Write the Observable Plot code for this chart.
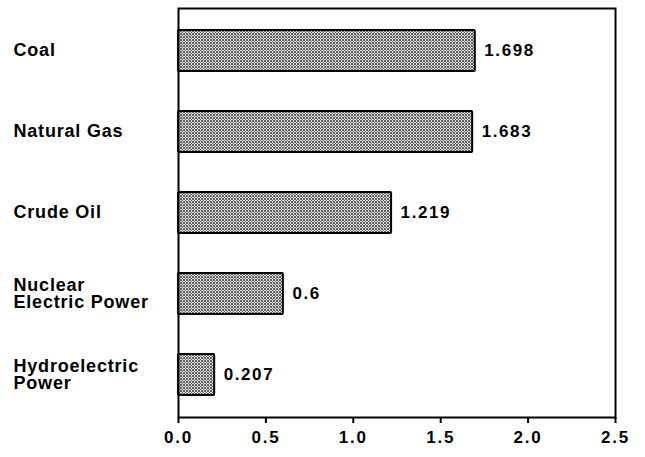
<!DOCTYPE html>
<html>
<head>
<meta charset="utf-8">
<script src="https://cdn.jsdelivr.net/npm/d3@7"></script>
<script src="https://cdn.jsdelivr.net/npm/@observablehq/plot@0.6"></script>
<style>
  body { margin: 0; background: #fff; }
  svg { font-family: "Liberation Sans", Arial, sans-serif; }
</style>
</head>
<body>
<div id="chart"></div>
<script>
const categories = ["Coal", "Natural Gas", "Crude Oil", "Nuclear\nElectric Power", "Hydroelectric\nPower"];
const values = [1.698, 1.683, 1.219, 0.6, 0.207];
const valueLabels = ["1.698", "1.683", "1.219", "0.6", "0.207"];
const xTicks = [0, 0.5, 1.0, 1.5, 2.0, 2.5];

const data = categories.map((c, i) => ({name: c, value: values[i], label: valueLabels[i]}));

const plot = Plot.plot({
  width: 645,
  height: 457,
  marginLeft: 178,
  marginRight: 30,
  marginTop: 8,
  marginBottom: 40,
  x: {domain: [0, 2.5], ticks: xTicks, tickFormat: d3.format(".1f")},
  y: {domain: categories, paddingInner: 0.5, paddingOuter: 0.27, axis: null},
  style: {fontSize: "17px", fontWeight: "bold", color: "#000"},
  marks: [
    Plot.barX(data, {x: "value", y: "name", fill: "url(#dots)", stroke: "#000", strokeWidth: 2, rx: 1}),
    Plot.text(data, {x: "value", y: "name", text: "label", textAnchor: "start", dx: 9, fontSize: 17, fontWeight: "bold", fill: "#000"}),
    Plot.text(data, {y: "name", text: "name", frameAnchor: "left", textAnchor: "start", dx: -165, lineHeight: 0.95, fontSize: 18, fontWeight: "bold", fill: "#000"}),
    Plot.axisX({ticks: xTicks, tickFormat: d3.format(".1f"), tickSize: 6, tickPadding: 7, fontSize: 17, fontWeight: "bold", stroke: "#000", strokeWidth: 2, label: null}),
    Plot.frame({stroke: "#000", strokeWidth: 2})
  ]
});

const svg = d3.select(plot);
// dotted pattern fill
const defs = svg.insert("defs", ":first-child");
const pat = defs.append("pattern").attr("id", "dots").attr("patternUnits", "userSpaceOnUse").attr("width", 3).attr("height", 3);
pat.append("rect").attr("width", 3).attr("height", 3).attr("fill", "#e6e6e6");
pat.append("circle").attr("cx", 1).attr("cy", 1).attr("r", 1).attr("fill", "#333");
pat.append("circle").attr("cx", 2.5).attr("cy", 2.5).attr("r", 0.7).attr("fill", "#666");

// wider letter spacing to mimic the original typeface
const textGroups = svg.selectAll('g[aria-label="text"]').nodes();
if (textGroups[0]) d3.select(textGroups[0]).style("letter-spacing", "1.6px");
if (textGroups[1]) d3.select(textGroups[1]).style("letter-spacing", "0.8px");
svg.selectAll('g[aria-label="x-axis tick label"]').style("letter-spacing", "1.8px");

document.getElementById("chart").append(plot);
</script>
</body>
</html>
